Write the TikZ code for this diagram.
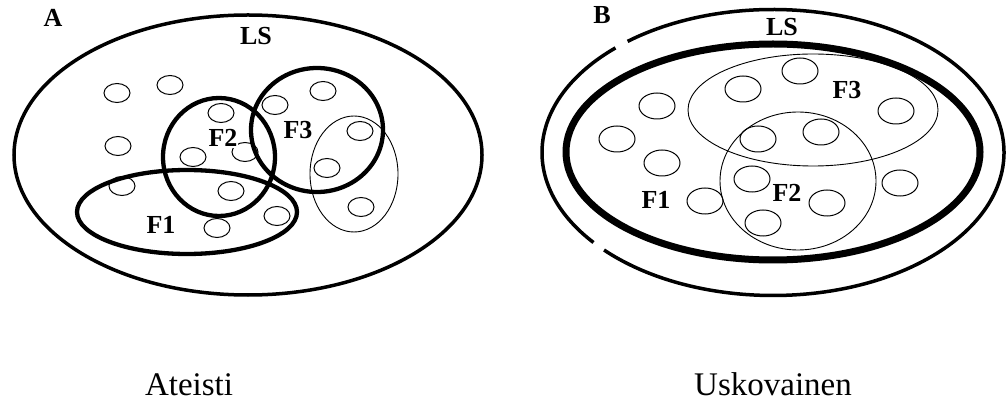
\documentclass[tikz,border=0pt]{standalone}
\usepackage{fontspec}
\setmainfont{Liberation Serif}
\begin{document}
\begin{tikzpicture}[x=1pt,y=-1pt,
  heavy/.style={line width=4.3pt},
  medium/.style={line width=3.5pt},
  thin/.style={line width=0.9pt},
  spot/.style={line width=1pt},
  tag/.style={font=\bfseries\fontsize{26}{26}\selectfont, inner sep=0pt},
  caption/.style={font=\fontsize{33}{33}\selectfont, inner sep=0pt, anchor=base}]
\useasboundingbox[fill=white] (0,0) rectangle (1006,403);

% ---------- Panel A ----------
\draw[medium] (248,155) ellipse[x radius=234, y radius=140];
% small elements
\foreach \p in {(117,93),(170,85),(118,146),(221,113),(193,157),(245,152),
                (275,105),(323,91),(360,131),(327,168),(361,207),(122,186),
                (231,191),(277,216),(217,228)}
  \draw[spot] \p ellipse[x radius=13, y radius=9.5];
\draw[thin] (354,174) ellipse[x radius=44, y radius=58];
\draw[heavy] (219,157) ellipse[x radius=56, y radius=59];
\draw[heavy] (317,130) ellipse[x radius=66, y radius=62];
\draw[heavy] (187,212) ellipse[x radius=110, y radius=42];
\node[tag] (labA)  at (53,18)  {A};
\node[tag] (lsA)   at (256,36) {LS};
\node[tag] (f1A)   at (161,225) {F1};
\node[tag, fill=white, inner sep=1pt] (f2A) at (223,138) {F2};
\node[tag] (f3A)   at (298,130) {F3};

% ---------- Panel B ----------
\draw[medium] ([shift={(141:231 and 143)}]773,152.5)
  arc[start angle=141, end angle=227, x radius=231, y radius=143];
\draw[medium] ([shift={(231:231 and 143)}]773,152.5)
  arc[start angle=231, end angle=497, x radius=231, y radius=143];
\draw[line width=7pt] (773,152) ellipse[x radius=207, y radius=108];
\foreach \p in {(800,71),(743,89),(657,106),(617,139),(662,163),(758,139),
                (821,132),(896,111),(752,179),(900,183),(705,201),(827,203),
                (763,223)}
  \draw[spot] \p ellipse[x radius=18, y radius=13];
\draw[thin] (813,110) ellipse[x radius=125, y radius=56];
\draw[thin] (798,181) ellipse[x radius=78, y radius=69];
\node[tag] (labB) at (602,15)  {B};
\node[tag] (lsB)  at (782,27)  {LS};
\node[tag] (f1B)  at (656,200) {F1};
\node[tag] (f2B)  at (787,193) {F2};
\node[tag] (f3B)  at (847,90)  {F3};

% ---------- captions ----------
\node[caption] (capA) at (189,395) {Ateisti};
\node[caption] (capB) at (773,395) {Uskovainen};
\end{tikzpicture}
\end{document}
